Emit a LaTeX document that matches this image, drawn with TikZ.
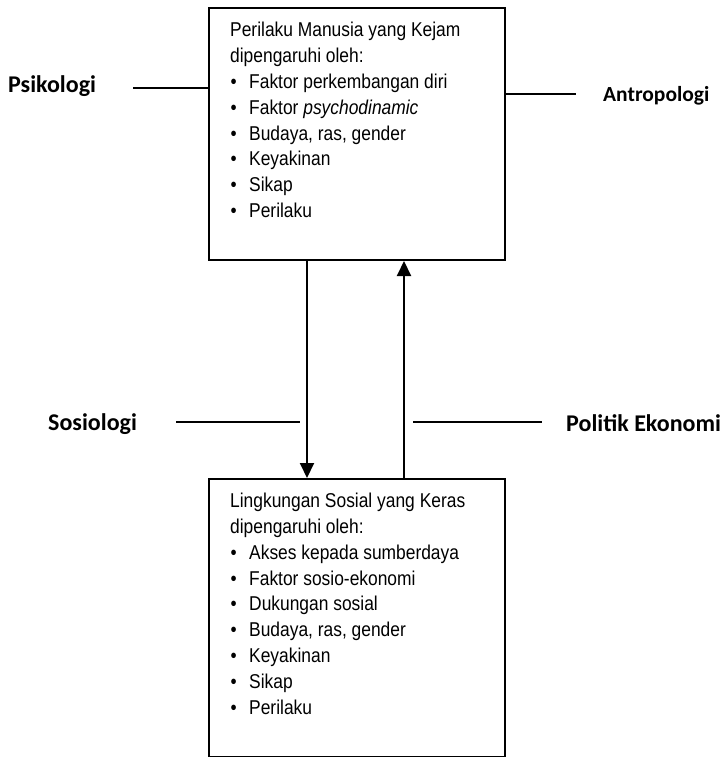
\documentclass[tikz,border=0pt]{standalone}
\usepackage{fontspec}
\setmainfont{Liberation Sans}[FakeStretch=0.87]
\newfontfamily\labelfont{Carlito}
\usetikzlibrary{arrows.meta}

% bullet item with fixed hanging indent
\newcommand\itm{\makebox[19pt][l]{\hspace{0.5pt}\textbullet}}

\tikzset{
  panel/.style={draw, line width=2pt, inner sep=0pt, anchor=north west, minimum width=296pt},
  bodytext/.style={inner sep=0pt, anchor=north west, align=left,
    font=\fontsize{20}{25.8}\selectfont},
  field/.style={inner sep=0pt, anchor=base west, font=\labelfont\bfseries\fontsize{24}{28}\selectfont},
  link/.style={line width=1.6pt},
  flow/.style={line width=2pt, -{Triangle[width=14pt,length=15pt]}},
}

\begin{document}
\begin{tikzpicture}[x=1pt,y=-1pt]
\useasboundingbox (0,0) rectangle (725,757);

% the two boxes
\node[panel, minimum height=252pt] (topbox) at (208,7) {};
\node[panel, minimum height=278pt] (botbox) at (208,478) {};

\node[bodytext] (toptxt) at (230,22.3) {Perilaku Manusia yang Kejam\\
dipengaruhi oleh:\\
\itm Faktor perkembangan diri\\
\itm Faktor \textit{psychodinamic}\\
\itm Budaya, ras, gender\\
\itm Keyakinan\\
\itm Sikap\\
\itm Perilaku};

\node[bodytext] (bottxt) at (230,492.9) {Lingkungan Sosial yang Keras\\
dipengaruhi oleh:\\
\itm Akses kepada sumberdaya\\
\itm Faktor sosio-ekonomi\\
\itm Dukungan sosial\\
\itm Budaya, ras, gender\\
\itm Keyakinan\\
\itm Sikap\\
\itm Perilaku};

% discipline labels
\node[field] (psi) at (8,93) {Psikologi};
\node[field, font=\labelfont\bfseries\fontsize{21.5}{26}\selectfont] (ant) at (603,102) {Antropologi};
\node[field] (sos) at (48,430) {Sosiologi};
\node[field] (pol) at (566,431) {Politik Ekonomi};

% label leaders
\coordinate (psiL) at (133,88);
\coordinate (antR) at (576,94);
\coordinate (sosL) at (176,422);
\coordinate (sosR) at (300,422);
\coordinate (polL) at (413,422);
\coordinate (polR) at (542,422);
\draw[link] (psiL) -- (psiL -| topbox.west);
\draw[link] (topbox.east |- antR) -- (antR);
\draw[link] (sosL) -- (sosR);
\draw[link] (polL) -- (polR);

% flows between the boxes
\coordinate (dnx) at (307,0);
\coordinate (upx) at (404,0);
\draw[flow] (topbox.south -| dnx) -- (botbox.north -| dnx);
\draw[flow] (botbox.north -| upx) -- (topbox.south -| upx);
\end{tikzpicture}
\end{document}
